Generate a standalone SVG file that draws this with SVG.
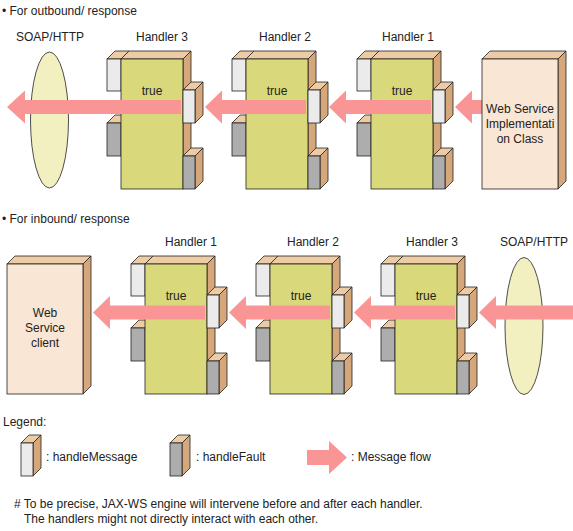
<svg xmlns="http://www.w3.org/2000/svg" xmlns:xlink="http://www.w3.org/1999/xlink" width="573" height="531" viewBox="0 0 573 531">
<style>
text{font-family:"Liberation Sans",Arial,sans-serif;font-size:12px;fill:#222}
.c{text-anchor:middle}
.ln{stroke:#222;stroke-width:0.8;stroke-linejoin:miter}
.body{fill:#D9D87A}
.top{fill:#EDCBA4}
.side{fill:#D6A77B}
.wh{fill:#EBEBEB}
.gr{fill:#ADADAD}
.ws{fill:#FAE6D5}
.el{fill:#F2F0C0}
.ar{fill:#F99595;stroke:none}
</style>
<defs>
<g id="handler">
<polygon class="top ln" points="-14,0 -6,-8 8,-8 0,0"/>
<rect class="wh ln" x="-14" y="0" width="14" height="32"/>
<polygon class="top ln" points="-14,64 -6,56 8,56 0,64"/>
<rect class="gr ln" x="-14" y="64" width="14" height="33"/>
<polygon class="top ln" points="0,0 8,-8 70,-8 62,0"/>
<polygon class="side ln" points="62,0 70,-8 70,122 62,130"/>
<rect class="body ln" x="0" y="0" width="62" height="130"/>
<polygon class="top ln" points="62,31 70,23 82,23 74,31"/>
<polygon class="side ln" points="74,31 82,23 82,56 74,64"/>
<rect class="wh ln" x="62" y="31" width="12" height="33"/>
<polygon class="top ln" points="62,97 70,89 82,89 74,97"/>
<polygon class="side ln" points="74,97 82,89 82,122 74,130"/>
<rect class="gr ln" x="62" y="97" width="12" height="33"/>
<text class="c" x="31" y="36">true</text>
</g>
<g id="bigbox">
<polygon class="top ln" points="0,0 8,-8 84,-8 76,0"/>
<polygon class="side ln" points="76,0 84,-8 84,122 76,130"/>
<rect class="ws ln" x="0" y="0" width="76" height="130"/>
</g>
</defs>

<text x="2" y="15">• For outbound/ response</text>
<text x="2" y="223">• For inbound/ response</text>

<!-- outbound section -->
<g id="soap-out">
<ellipse class="el ln" cx="49.5" cy="120" rx="19" ry="68"/>
<text class="c" x="50" y="41">SOAP/HTTP</text>
</g>
<g id="out-handler3">
<use xlink:href="#handler" x="121" y="59"/>
<text class="c" x="162" y="41">Handler 3</text>
</g>
<g id="out-handler2">
<use xlink:href="#handler" x="246" y="59"/>
<text class="c" x="285" y="41">Handler 2</text>
</g>
<g id="out-handler1">
<use xlink:href="#handler" x="371" y="59"/>
<text class="c" x="408" y="41">Handler 1</text>
</g>

<!-- inbound section -->
<g id="client">
<use xlink:href="#bigbox" x="7" y="264"/>
<text class="c" x="45" y="317">Web</text>
<text class="c" x="45" y="332">Service</text>
<text class="c" x="45" y="347">client</text>
</g>
<g id="in-handler1">
<use xlink:href="#handler" x="145" y="264"/>
<text class="c" x="191" y="246">Handler 1</text>
</g>
<g id="in-handler2">
<use xlink:href="#handler" x="270" y="264"/>
<text class="c" x="313" y="246">Handler 2</text>
</g>
<g id="in-handler3">
<use xlink:href="#handler" x="395" y="264"/>
<text class="c" x="432" y="246">Handler 3</text>
</g>
<g id="soap-in">
<ellipse class="el ln" cx="524" cy="326" rx="19" ry="68.5"/>
<text class="c" x="534" y="246">SOAP/HTTP</text>
</g>

<g id="connectors">
<polygon class="ar" points="482,100 472,100 472,90.5 455,107 472,123.5 472,114 482,114"/>
<polygon class="ar" points="431,100 346,100 346,90.5 329,107 346,123.5 346,114 431,114"/>
<polygon class="ar" points="306,100 222,100 222,90.5 205,107 222,123.5 222,114 306,114"/>
<polygon class="ar" points="181,100 25,100 25,90.5 7,107 25,123.5 25,114 181,114"/>
<polygon class="ar" points="573,305.5 496,305.5 496,296 479,312.5 496,329 496,319.5 573,319.5"/>
<polygon class="ar" points="455,305.5 371,305.5 371,296 354,312.5 371,329 371,319.5 455,319.5"/>
<polygon class="ar" points="330,305.5 246,305.5 246,296 229,312.5 246,329 246,319.5 330,319.5"/>
<polygon class="ar" points="205,305.5 110,305.5 110,296 93,312.5 110,329 110,319.5 205,319.5"/>
</g>

<g id="ws-impl">
<use xlink:href="#bigbox" x="482" y="59"/>
<text class="c" x="520" y="113">Web Service</text>
<text class="c" x="520" y="128">Implementati</text>
<text class="c" x="520" y="143">on Class</text>
</g>

<!-- legend -->
<g id="legend">
<text x="3" y="426">Legend:</text>
<polygon class="top ln" points="21,443 29,435 41,435 33,443"/>
<polygon class="side ln" points="33,443 41,435 41,468 33,476"/>
<rect class="wh ln" x="21" y="443" width="12" height="33"/>
<text x="46" y="461">: handleMessage</text>
<polygon class="top ln" points="170,443 178,435 190,435 182,443"/>
<polygon class="side ln" points="182,443 190,435 190,468 182,476"/>
<rect class="gr ln" x="170" y="443" width="12" height="33"/>
<text x="196" y="461">: handleFault</text>
<polygon class="ar" points="307,450 329,450 329,441 347,457.5 329,474 329,465 307,465"/>
<text x="351" y="461">: Message flow</text>
</g>

<text x="14" y="508"># To be precise, JAX-WS engine will intervene before and after each handler.</text>
<text x="24" y="523">The handlers might not directly interact with each other.</text>
</svg>
